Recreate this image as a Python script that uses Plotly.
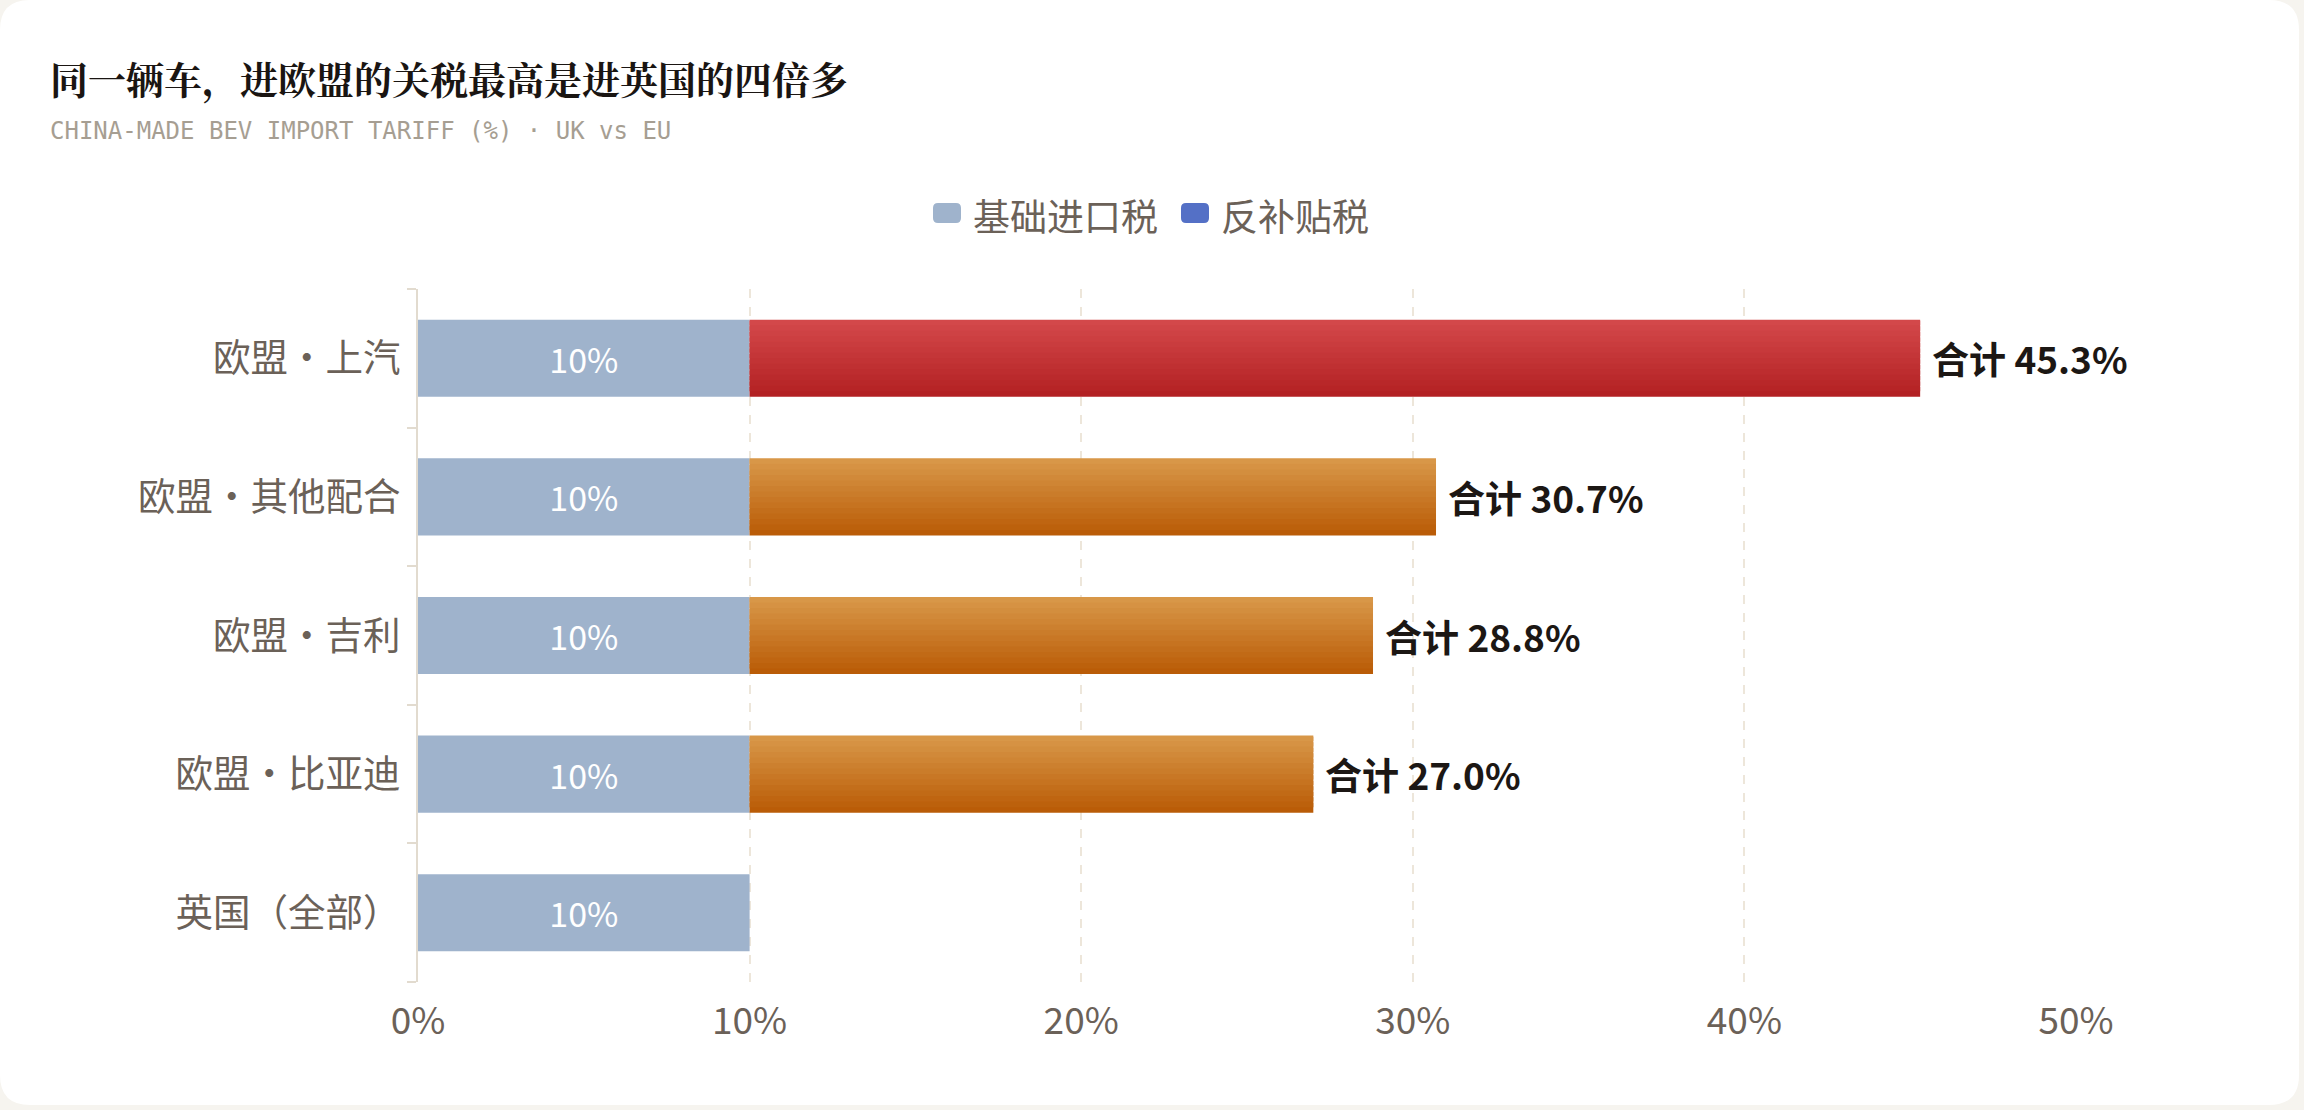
import plotly.graph_objects as go

# ---------------- data ----------------
categories = ["英国（全部）", "欧盟・比亚迪", "欧盟・吉利", "欧盟・其他配合", "欧盟・上汽"]
base_tariff = [10, 10, 10, 10, 10]
countervailing = [0, 17.0, 18.8, 20.7, 35.3]
total_tariff = [10, 27.0, 28.8, 30.7, 45.3]
x_ticks = [0, 10, 20, 30, 40, 50]
x_tick_labels = ["0%", "10%", "20%", "30%", "40%", "50%"]
legend_names = ["基础进口税", "反补贴税"]

title_text = "同一辆车，进欧盟的关税最高是进英国的四倍多"
subtitle_text = "CHINA-MADE BEV IMPORT TARIFF (%) · UK vs EU"

# ---------------- style ----------------
W, H = 2304, 1110
L, R, T, B = 418, 228, 289, 128
PW, PH = W - L - R, H - T - B

BASE_COLOR = "#9fb3cc"
LEGEND_CS_COLOR = "#5470c6"
RED_TOP, RED_BOT = (212, 74, 76), (178, 31, 33)
ORA_TOP, ORA_BOT = (217, 153, 75), (185, 90, 4)
TEXT_COLOR = "#6b6158"
AXIS_COLOR = "#e2dbcf"
GRID_COLOR = "#ede6da"
BG = "#f6f4ef"
CJK = "Noto Sans CJK SC, Noto Sans, sans-serif"

BAR_W = 0.556
N_SLICES = 14


def px2x(px):
    return (px - L) / PW


def py2y(py):
    return 1 - (py - T) / PH


def mix(c1, c2, t):
    return "rgb(%d,%d,%d)" % tuple(round(a + (b - a) * t) for a, b in zip(c1, c2))


fig = go.Figure()

# base tariff bars
fig.add_trace(go.Bar(
    y=categories, x=base_tariff, orientation="h", base=0,
    width=BAR_W, offset=-BAR_W / 2,
    marker=dict(color=BASE_COLOR, line=dict(width=0)),
    text=[f"{v}%" for v in base_tariff], textposition="inside",
    insidetextanchor="middle", constraintext="none",
    textfont=dict(color="white", size=34, family=CJK),
    name=legend_names[0], showlegend=False, hoverinfo="skip",
))

# countervailing bars, drawn as overlapping horizontal slices to build a vertical gradient
step = BAR_W / N_SLICES
for i in range(N_SLICES):
    t = (i + 0.5) / N_SLICES  # 0 = bottom, 1 = top
    cols = []
    for cat in categories:
        if cat == "欧盟・上汽":
            cols.append(mix(RED_BOT, RED_TOP, t))
        else:
            cols.append(mix(ORA_BOT, ORA_TOP, t))
    start = -BAR_W / 2 + i * step
    width = step if i == N_SLICES - 1 else step * 1.8
    fig.add_trace(go.Bar(
        y=categories, x=countervailing, orientation="h", base=base_tariff,
        width=width, offset=start,
        marker=dict(color=cols, line=dict(width=0)),
        name=legend_names[1], showlegend=False, hoverinfo="skip",
    ))

annotations = []
for cat, v, tot in zip(categories, countervailing, total_tariff):
    if v > 0:
        annotations.append(dict(
            x=tot, y=cat, xref="x", yref="y", text=f"合计 {tot:.1f}%",
            showarrow=False, xanchor="left", yanchor="middle", xshift=10,
            font=dict(size=37, color="#1c1714", family=CJK, weight="bold"),
        ))

# title & subtitle
annotations.append(dict(
    x=px2x(48), y=py2y(78), xref="paper", yref="paper", text=title_text,
    showarrow=False, xanchor="left", yanchor="middle",
    font=dict(size=38, color="#1a1512",
              family="Noto Serif CJK SC, Noto Sans CJK SC, serif", weight="bold"),
))
annotations.append(dict(
    x=px2x(48), y=py2y(131), xref="paper", yref="paper", text=subtitle_text,
    showarrow=False, xanchor="left", yanchor="middle",
    font=dict(size=24, color="#a69e92", family="DejaVu Sans Mono, monospace"),
))

shapes = []


def rounded_rect(x0, y0, x1, y1, r):
    pts = [
        ("M", [(x0 + r, y0)]), ("L", [(x1 - r, y0)]), ("Q", [(x1, y0), (x1, y0 + r)]),
        ("L", [(x1, y1 - r)]), ("Q", [(x1, y1), (x1 - r, y1)]),
        ("L", [(x0 + r, y1)]), ("Q", [(x0, y1), (x0, y1 - r)]),
        ("L", [(x0, y0 + r)]), ("Q", [(x0, y0), (x0 + r, y0)]),
    ]
    s = ""
    for cmd, ps in pts:
        s += cmd + " ".join(f"{px2x(a):.5f},{py2y(b):.5f}" for a, b in ps)
    return s + "Z"


# card
shapes.append(dict(type="path", xref="paper", yref="paper", layer="below",
                   path=rounded_rect(0, 0, 2299, 1105, 30),
                   fillcolor="white", line=dict(width=0)))

# legend (drawn manually for larger rounded swatches)
legend_items = [(933, BASE_COLOR, legend_names[0]), (1181, LEGEND_CS_COLOR, legend_names[1])]
for x0, col, name in legend_items:
    shapes.append(dict(type="path", xref="paper", yref="paper",
                       path=rounded_rect(x0, 203, x0 + 28, 223, 5),
                       fillcolor=col, line=dict(width=0)))
    annotations.append(dict(
        x=px2x(x0 + 38), y=py2y(215), xref="paper", yref="paper", text=name,
        showarrow=False, xanchor="left", yanchor="middle",
        font=dict(size=37, color=TEXT_COLOR, family=CJK),
    ))

fig.update_layout(
    width=W, height=H,
    margin=dict(l=L, r=R, t=T, b=B, pad=0),
    paper_bgcolor=BG, plot_bgcolor="rgba(0,0,0,0)",
    barmode="overlay", showlegend=False,
    annotations=annotations, shapes=shapes,
    font=dict(family=CJK, color=TEXT_COLOR),
)
fig.update_xaxes(
    range=[0, 50], tickvals=x_ticks, ticktext=x_tick_labels,
    showgrid=True, gridcolor=GRID_COLOR, griddash="dash", gridwidth=2,
    zeroline=False, showline=False, ticks="",
    tickfont=dict(size=37, color=TEXT_COLOR, family=CJK),
    ticklabelstandoff=14, fixedrange=True,
)
fig.update_yaxes(
    type="category", categoryorder="array", categoryarray=categories,
    showline=True, linecolor=AXIS_COLOR, linewidth=2,
    ticks="outside", tickson="boundaries", ticklen=9, tickcolor=AXIS_COLOR, tickwidth=2,
    showgrid=False, zeroline=False,
    tickfont=dict(size=37.5, color=TEXT_COLOR, family=CJK),
    ticklabelstandoff=8, fixedrange=True,
)

fig.write_html("out.html")
